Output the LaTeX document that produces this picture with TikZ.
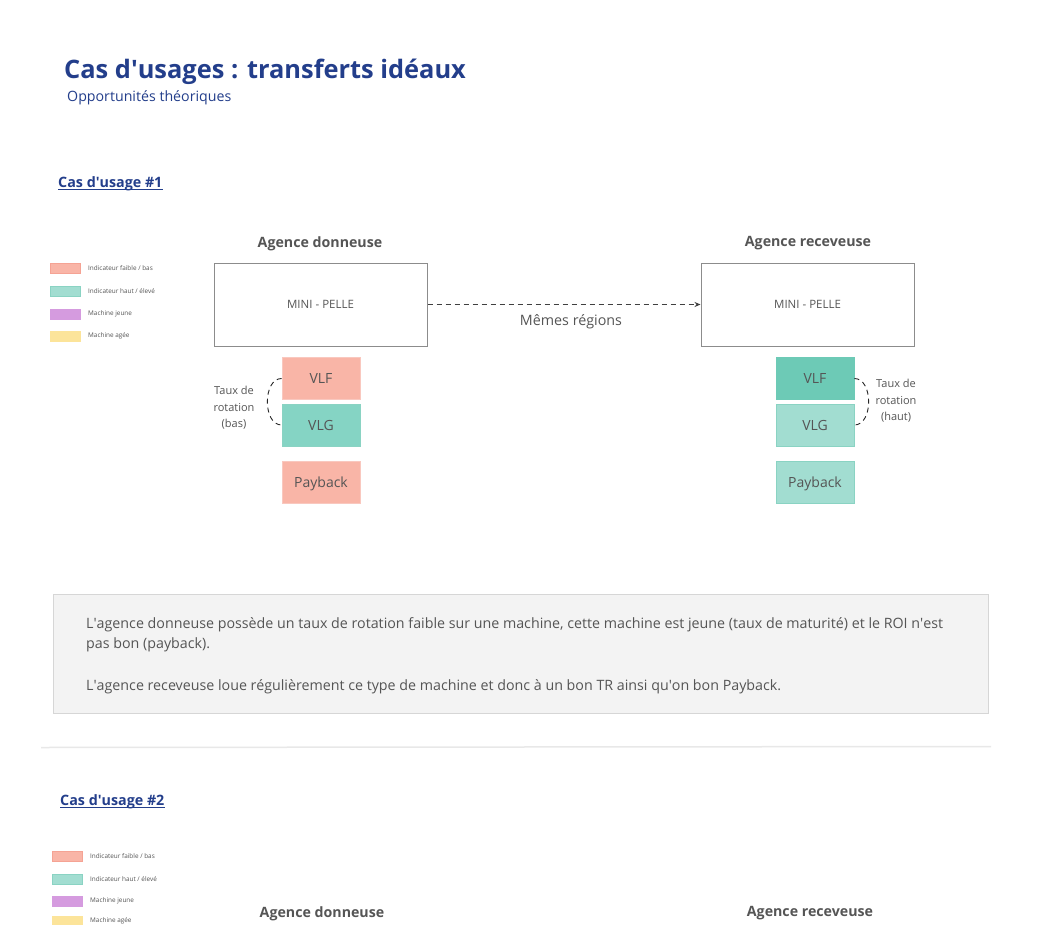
\documentclass[tikz,border=0pt]{standalone}
\usepackage{fontspec}
\setmainfont{Open Sans}
\usetikzlibrary{arrows.meta}
\newcommand\apos{\textquotesingle}
\definecolor{titleblue}{HTML}{233E8B}
\definecolor{txtgray}{HTML}{555555}
\definecolor{boxgray}{HTML}{8C8C8C}
\definecolor{redfill}{HTML}{F9B5A7}
\definecolor{redline}{HTML}{F5A394}
\definecolor{tealfill}{HTML}{A2DDD1}
\definecolor{tealline}{HTML}{8AD3C3}
\definecolor{tealmid}{HTML}{85D4C4}
\definecolor{tealdark}{HTML}{6DCAB6}
\definecolor{purplefill}{HTML}{D59BDF}
\definecolor{yellowfill}{HTML}{FCE49A}
\definecolor{notefill}{HTML}{F3F3F3}
\definecolor{noteline}{HTML}{D6D6D6}
\definecolor{sepline}{HTML}{E8E8E8}
\tikzset{
  x=1pt,y=-1pt,
  fs/.style={font=\fontsize{#1}{#1}\selectfont},
  legbox/.style={minimum width=30pt,minimum height=10pt,inner sep=0pt,line width=0.8pt},
  legtxt/.style={anchor=west,fs=6.4,text=txtgray,inner sep=0pt},
  agtitle/.style={font=\fontsize{14.2}{17}\selectfont\bfseries,text=txtgray,inner sep=0pt},
  machbox/.style={draw=boxgray,line width=1pt,minimum width=213pt,minimum height=83pt,inner sep=0pt,fs=11.5,text=txtgray},
  ind/.style={minimum width=78pt,minimum height=42pt,inner sep=0pt,line width=0.8pt,fs=14,text=txtgray,text depth=0pt},
  sectitle/.style={anchor=base west,inner sep=0pt,text=titleblue,font=\fontsize{14.3}{17}\selectfont\bfseries},
  arcdash/.style={draw=black!85,dashed,dash pattern=on 5pt off 4pt,line width=0.9pt},
  sidelbl/.style={align=center,text=txtgray,inner sep=0pt,font=\fontsize{11}{16.5}\selectfont},
  notetxt/.style={anchor=base west,inner sep=0pt,fs=14.25,text=txtgray},
}
\begin{document}
\begin{tikzpicture}
\useasboundingbox[fill=white] (0,0) rectangle (1040,925);
% title
\node[anchor=base west,inner sep=0pt,text=titleblue,font=\fontsize{25.4}{30}\selectfont\bfseries] (title) at (64,79) {Cas d\apos usages : transferts idéaux};
\node[anchor=base west,inner sep=0pt,text=titleblue,font=\fontsize{14.2}{17}\selectfont] (subtitle) at (67,102) {Opportunités théoriques};
% case 1
\node[sectitle] (case1) at (58,188) {Cas d\apos usage \#1};
\draw[titleblue,line width=1pt] ([yshift=-2pt]case1.base west) -- ([yshift=-2pt]case1.base east);
% legend 1
\node[legbox,fill=redfill,draw=redline] (l1a) at (65,268) {};
\node[legbox,fill=tealfill,draw=tealline] (l1b) at (65,291) {};
\node[legbox,fill=purplefill,draw=purplefill] (l1c) at (65,314) {};
\node[legbox,fill=yellowfill,draw=yellowfill] (l1d) at (65,336) {};
\node[legtxt] (t1a) at (88,268) {Indicateur faible / bas};
\node[legtxt] (t1b) at (88,291) {Indicateur haut / élevé};
\node[legtxt] (t1c) at (88,314) {Machine jeune};
\node[legtxt] (t1d) at (88,336) {Machine agée};
% agencies
\node[agtitle] (ag1) at (320,243.5) {Agence donneuse};
\node[agtitle] (ag2) at (808,243.5) {Agence receveuse};
\node[machbox] (m1) at (320.5,304.5) {MINI - PELLE};
\node[machbox] (m2) at (807.5,304.5) {MINI - PELLE};
\draw[dashed,dash pattern=on 5pt off 4pt,line width=0.9pt,draw=black!75,-{Stealth[length=6pt,width=5pt]}] (m1.east) -- (m2.west)
  node[midway,below=9.5pt,xshift=7pt,fs=14.3,text=txtgray,inner sep=0pt] (memes) {Mêmes régions};
% left indicators
\node[ind,fill=redfill,draw=redline!60] (vlf1) at (321,378.5) {VLF};
\node[ind,fill=tealmid,draw=tealline] (vlg1) at (321,425) {VLG};
\node[ind,fill=redfill,draw=redline!60] (pb1) at (321,482) {Payback};
\draw[arcdash] (vlf1.west) .. controls +(-19,0) and +(-19,0) .. (vlg1.west);
\node[sidelbl] (tr1) at (234,408) {Taux de\\rotation\\(bas)};
% right indicators
\node[ind,fill=tealdark,draw=tealdark] (vlf2) at (815,378.5) {VLF};
\node[ind,fill=tealfill,draw=tealline] (vlg2) at (815,425) {VLG};
\node[ind,fill=tealfill,draw=tealline] (pb2) at (815,482) {Payback};
\draw[arcdash] (vlf2.east) .. controls +(19,0) and +(19,0) .. (vlg2.east);
\node[sidelbl] (tr2) at (896,401) {Taux de\\rotation\\(haut)};
% note
\node[draw=noteline,fill=notefill,line width=1pt,minimum width=935pt,minimum height=119pt,inner sep=0pt] (note) at (520.5,653.5) {};
\node[notetxt] (n1) at (86,628) {L\apos agence donneuse possède un taux de rotation faible sur une machine, cette machine est jeune (taux de maturité) et le ROI n\apos est};
\node[notetxt] (n2) at (86,648) {pas bon (payback).};
\node[notetxt] (n3) at (86,690) {L\apos agence receveuse loue régulièrement ce type de machine et donc à un bon TR ainsi qu\apos on bon Payback.};
% separator
\coordinate (s1) at (41,747.5);
\coordinate (s2) at (991,746.5);
\draw[sepline,line width=1.5pt] (s1) -- (s2);
% case 2
\node[sectitle] (case2) at (60,805) {Cas d\apos usage \#2};
\draw[titleblue,line width=1pt] ([yshift=-2pt]case2.base west) -- ([yshift=-2pt]case2.base east);
\node[legbox,fill=redfill,draw=redline] (l2a) at (67,856) {};
\node[legbox,fill=tealfill,draw=tealline] (l2b) at (67,879) {};
\node[legbox,fill=purplefill,draw=purplefill] (l2c) at (67,901) {};
\node[legbox,fill=yellowfill,draw=yellowfill] (l2d) at (67,921) {};
\node[legtxt] (t2a) at (90,856) {Indicateur faible / bas};
\node[legtxt] (t2b) at (90,879) {Indicateur haut / élevé};
\node[legtxt] (t2c) at (90,901) {Machine jeune};
\node[legtxt] (t2d) at (90,921) {Machine agée};
\node[agtitle] (ag3) at (322,913.5) {Agence donneuse};
\node[agtitle] (ag4) at (810,913.5) {Agence receveuse};
\end{tikzpicture}
\end{document}
